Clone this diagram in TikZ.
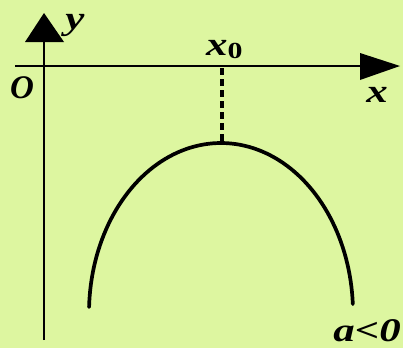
\documentclass[tikz,border=0pt]{standalone}
\usepackage{fontspec}
\setmainfont{Liberation Serif}
\newfontfamily\lblfont[FakeStretch=1.3]{Liberation Serif}
\begin{document}
\begin{tikzpicture}[x=1pt,y=-1pt,
  lbl/.style={font=\lblfont\bfseries\itshape\fontsize{33}{33}\selectfont, inner sep=0pt},
  axisline/.style={line width=2.6pt},
  tip/.style={fill=black}]
\definecolor{bg}{RGB}{221,246,160}
\fill[bg] (0,0) rectangle (403,348);
\useasboundingbox (0,0) rectangle (403,348);
% axes
\coordinate (ybot) at (44,340);
\coordinate (ytop) at (44,40);
\coordinate (xl) at (15,66);
\coordinate (xr) at (362,66);
\draw[axisline] (ybot) -- (ytop);
\draw[axisline] (xl) -- (xr);
\fill[tip] (25,42) -- (44,13) -- (64,42) -- cycle;
\fill[tip] (360,53) -- (400,66) -- (360,80) -- cycle;
% labels
\node[lbl] (ylab) at (75,25) {y};
\node[lbl, font=\bfseries\itshape\fontsize{33}{33}\selectfont] (olab) at (22,88) {O};
\node[lbl, anchor=base west] (x0lab) at (206,55) {x\raisebox{-3pt}{\upshape\fontsize{23}{23}\selectfont 0}};
\node[lbl] (xlab) at (377,95) {x};
\node[lbl, anchor=base east] (alab) at (401,341) {a<0};
% dashed
\coordinate (top) at (222,68);
\coordinate (vert) at (222,142);
\draw[line width=3.6pt, dash pattern=on 7pt off 4pt] (top) -- (vert);
% curve
\draw[line width=3.7pt, line cap=round, domain=3:178, samples=90] plot ({221+132*cos(\x)}, {313-170*sin(\x)});
\end{tikzpicture}
\end{document}
